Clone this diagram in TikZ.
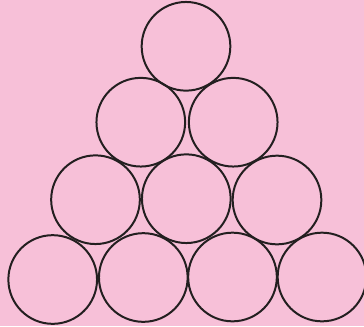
\documentclass[tikz,border=0pt]{standalone}
\usepackage{tikz}
\definecolor{rose}{HTML}{F7C0D8}
\definecolor{ink}{HTML}{231F20}

\begin{document}
\begin{tikzpicture}[
  x=0.03cm,
  y=-0.03cm,
  ball/.style={circle, draw=ink, line width=1.7pt, inner sep=0pt,
               minimum size=2.66cm},
]

\fill[rose] (0,0) rectangle (364,326);
\useasboundingbox (0,0) rectangle (364,326);

% top row
\node[ball] (top) at (186,46.3) {};

% second row
\node[ball] (rowtwoleft) at (140.8,122.2) {};
\node[ball] (rowtworight) at (233.2,122.2) {};

% third row
\node[ball] (rowthreeleft) at (95.5,199.7) {};
\node[ball] (rowthreemid) at (186.3,198.7) {};
\node[ball] (rowthreeright) at (277,200) {};

% bottom row
\node[ball] (bottomone) at (52.7,279.5) {};
\node[ball] (bottomtwo) at (143.3,277.5) {};
\node[ball] (bottomthree) at (232.5,277) {};
\node[ball] (bottomfour) at (322,277) {};

\end{tikzpicture}
\end{document}
